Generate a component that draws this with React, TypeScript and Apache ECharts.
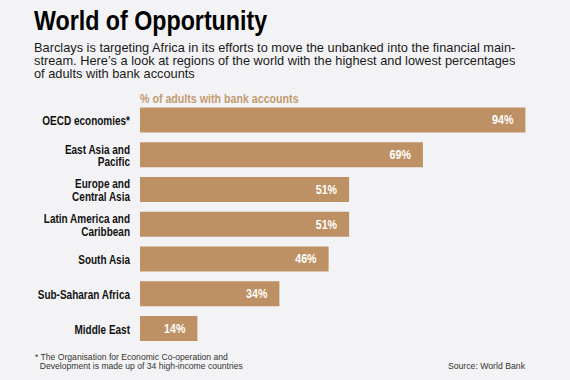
import React, { useEffect, useRef } from "react";
import * as echarts from "echarts";

const categories = [
  "OECD economies*",
  "East Asia and\nPacific",
  "Europe and\nCentral Asia",
  "Latin America and\nCaribbean",
  "South Asia",
  "Sub-Saharan Africa",
  "Middle East",
];
const values = [94, 69, 51, 51, 46, 34, 14];

const titleText = "World of Opportunity";
const subtitleLines = [
  "Barclays is targeting Africa in its efforts to move the unbanked into the financial main-",
  "stream. Here\u2019s a look at regions of the world with the highest and lowest percentages",
  "of adults with bank accounts",
];
const axisTitle = "% of adults with bank accounts";
const footnoteLines = [
  "* The Organisation for Economic Co-operation and",
  "  Development is made up of 34 high-income countries",
];
const sourceText = "Source: World Bank";

const SANS = "'Liberation Sans', Arial, sans-serif";
const BAR = "#be9164";
const CONDENSE = 0.8;

export default function App() {
  const ref = useRef<HTMLDivElement>(null);
  useEffect(() => {
    if (!ref.current) return;
    const chart = echarts.init(ref.current, null, { renderer: "svg" });
    chart.setOption({
      animation: false,
      backgroundColor: "#f3f3f5",
      grid: { left: 140, right: 20, top: 102.6, bottom: 34.1 },
      xAxis: { type: "value", min: 0, max: 100, show: false },
      yAxis: {
        type: "category",
        data: categories,
        inverse: true,
        axisLine: { show: false },
        axisTick: { show: false },
        axisLabel: { show: false },
      },
      series: [
        {
          type: "bar",
          z: 2,
          data: values,
          barWidth: 25,
          itemStyle: { color: BAR },
        },
        {
          type: "custom",
          z: 5,
          clip: false,
          data: values.map((v, i) => [v, i]),
          encode: { x: 0, y: 1 },
          renderItem: (params: any, api: any) => {
            const v = api.value(0);
            const idx = api.value(1);
            const p0 = api.coord([0, idx]);
            const p1 = api.coord([v, idx]);
            return {
              type: "group",
              children: [
                {
                  type: "text",
                  x: p0[0] - 10,
                  y: p0[1] + 0.8,
                  scaleX: CONDENSE,
                  style: {
                    text: categories[idx],
                    fontFamily: SANS,
                    fontWeight: "bold",
                    fontSize: 12.5,
                    lineHeight: 12.5,
                    fill: "#111",
                    align: "right",
                    verticalAlign: "middle",
                  },
                },
                {
                  type: "text",
                  x: p1[0] - 12,
                  y: p1[1],
                  z2: 10,
                  scaleX: 0.82,
                  style: {
                    text: v + "%",
                    fontFamily: SANS,
                    fontWeight: "bold",
                    fontSize: 13,
                    fill: "#ffffff",
                    align: "right",
                    verticalAlign: "middle",
                  },
                },
              ],
            };
          },
        },
      ],
      graphic: [
        {
          type: "text",
          x: 34,
          y: 20.5,
          scaleX: 0.83,
          style: {
            text: titleText,
            fontFamily: SANS,
            fontWeight: "bold",
            fontSize: 28,
            fill: "#000",
            verticalAlign: "middle",
          },
        },
        {
          type: "text",
          x: 34,
          y: 40.4,
          style: {
            text: subtitleLines.join("\n"),
            fontFamily: SANS,
            fontSize: 12.8,
            lineHeight: 13.3,
            fill: "#1a1a1a",
            verticalAlign: "top",
          },
        },
        {
          type: "text",
          x: 140,
          y: 98.5,
          scaleX: 0.82,
          style: {
            text: axisTitle,
            fontFamily: SANS,
            fontWeight: "bold",
            fontSize: 13,
            fill: "#c39b70",
            verticalAlign: "middle",
          },
        },
        {
          type: "text",
          x: 35,
          y: 352.9,
          style: {
            text: footnoteLines.join("\n"),
            fontFamily: SANS,
            fontSize: 8.6,
            lineHeight: 8.8,
            fill: "#333",
            verticalAlign: "top",
          },
        },
        {
          type: "text",
          x: 525,
          y: 365.7,
          style: {
            text: sourceText,
            fontFamily: SANS,
            fontSize: 8.7,
            fill: "#333",
            align: "right",
            verticalAlign: "middle",
          },
        },
      ],
    });
    return () => chart.dispose();
  }, []);
  return (
    <div
      ref={ref}
      style={{ position: "absolute", left: 0, top: 0, width: 570, height: 380 }}
    />
  );
}
